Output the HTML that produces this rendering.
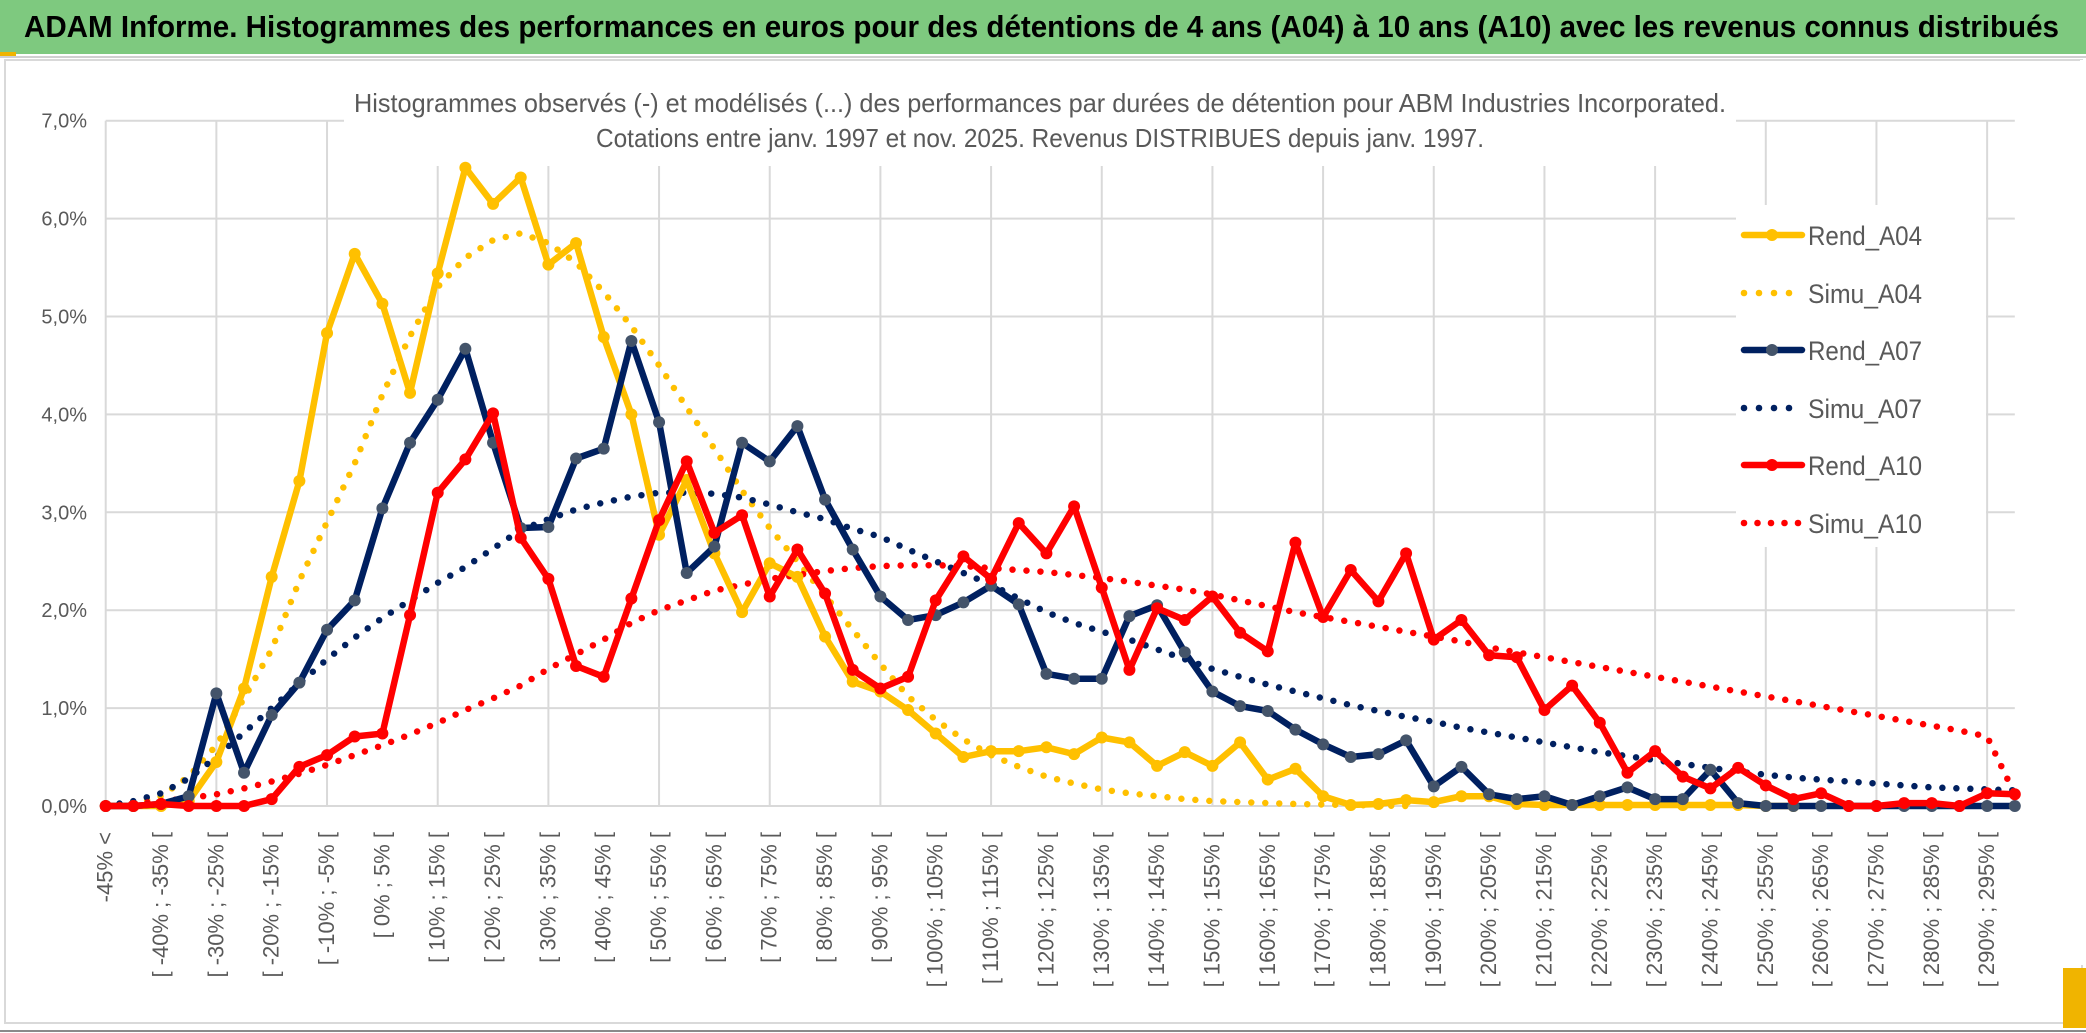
<!DOCTYPE html>
<html><head><meta charset="utf-8">
<style>
html,body{margin:0;padding:0;background:#fff;}
body{width:2086px;height:1033px;overflow:hidden;font-family:"Liberation Sans",sans-serif;}
svg{display:block;}
</style></head>
<body>
<svg id="chart" width="2086" height="1033" viewBox="0 0 2086 1033" xmlns="http://www.w3.org/2000/svg">
  <rect x="0" y="0" width="2086" height="1033" fill="#ffffff"/>
  <rect x="0" y="0" width="2086" height="54" fill="#7ec97f"/>
  <rect x="0" y="52" width="16" height="4" fill="#f0b400"/>
  <line x1="0" y1="57" x2="2086" y2="57" stroke="#d0d0d0" stroke-width="2"/>
  <text x="24" y="37" font-size="31" font-weight="bold" fill="#000" textLength="2035" lengthAdjust="spacingAndGlyphs">ADAM Informe. Histogrammes des performances en euros pour des détentions de 4 ans (A04) à 10 ans (A10) avec les revenus connus distribués</text>
  <rect x="5" y="60" width="2077" height="963" fill="none" stroke="#d9d9d9" stroke-width="2"/>
  <line x1="0" y1="1031" x2="2086" y2="1031" stroke="#8a8a8a" stroke-width="2"/>
  <rect x="2063" y="968" width="23" height="60" fill="#f0b400"/>
  <rect x="2080" y="60" width="6" height="905" fill="#fff"/>
  <g id="grid"></g>
  <rect x="344" y="80" width="1392" height="86" fill="#fff"/>
  <text x="1040" y="112" font-size="26" fill="#595959" text-anchor="middle" textLength="1372" lengthAdjust="spacingAndGlyphs">Histogrammes observés (-) et modélisés (...) des performances par durées de détention pour ABM Industries Incorporated.</text>
  <text x="1040" y="147" font-size="26" fill="#595959" text-anchor="middle" textLength="888" lengthAdjust="spacingAndGlyphs">Cotations entre janv. 1997 et nov. 2025. Revenus DISTRIBUES depuis janv. 1997.</text>
  <g id="yaxis"></g>
  <g id="xaxis"></g>
  <g id="series"></g>
  <g id="legend"></g>
</svg>
<script>
const categoryCount = 70;
const categoryLabels = ["-45% <"];
const yTicks = [0,1,2,3,4,5,6,7];
const yTickLabels = ["0,0%","1,0%","2,0%","3,0%","4,0%","5,0%","6,0%","7,0%"];
const rendA04 = [0,0,0,0.05,0.45,1.2,2.34,3.32,4.83,5.64,5.13,4.22,5.44,6.52,6.15,6.42,5.53,5.75,4.79,4.0,2.77,3.33,2.58,1.98,2.48,2.34,1.73,1.27,1.17,0.98,0.74,0.5,0.56,0.56,0.6,0.53,0.7,0.65,0.41,0.55,0.41,0.65,0.27,0.38,0.1,0.01,0.02,0.06,0.04,0.1,0.1,0.02,0.01,0.01,0.01,0.01,0.01,0.01,0.01,0.01,0.0,0.0];
const simuA04 = [0,0.02,0.1,0.3,0.62,1.1,1.6,2.3,2.9,3.5,4.2,4.8,5.3,5.6,5.78,5.85,5.75,5.55,5.25,4.9,4.5,4.07,3.65,3.22,2.84,2.5,2.15,1.8,1.45,1.12,0.88,0.68,0.52,0.4,0.3,0.23,0.17,0.13,0.1,0.07,0.05,0.04,0.03,0.02,0.015,0.01,0.005,0.0];
const rendA07 = [0,0,0.02,0.1,1.15,0.34,0.93,1.26,1.8,2.1,3.04,3.71,4.15,4.67,3.71,2.84,2.85,3.55,3.65,4.75,3.92,2.38,2.65,3.71,3.52,3.88,3.13,2.62,2.14,1.9,1.95,2.08,2.25,2.06,1.35,1.3,1.3,1.94,2.05,1.57,1.17,1.02,0.97,0.78,0.63,0.5,0.53,0.67,0.2,0.4,0.12,0.07,0.1,0.01,0.1,0.19,0.07,0.07,0.37,0.03,0.0,0.0,0.0,0.0,0.0,0.0,0.0,0.0,0.0,0.0];
const simuA07 = [0,0.05,0.13,0.28,0.5,0.75,1.0,1.25,1.5,1.72,1.92,2.1,2.28,2.44,2.63,2.82,2.93,3.03,3.1,3.16,3.2,3.2,3.19,3.15,3.08,3.0,2.93,2.83,2.75,2.62,2.5,2.38,2.26,2.12,1.98,1.87,1.78,1.7,1.6,1.5,1.4,1.32,1.24,1.17,1.1,1.03,0.97,0.91,0.86,0.8,0.75,0.7,0.65,0.6,0.55,0.51,0.47,0.43,0.39,0.35,0.32,0.29,0.27,0.25,0.23,0.21,0.19,0.18,0.17,0.16];
const rendA10 = [0,0,0.02,0,0,0,0.07,0.4,0.52,0.71,0.74,1.95,3.2,3.54,4.01,2.74,2.32,1.43,1.32,2.12,2.92,3.52,2.79,2.97,2.14,2.62,2.17,1.39,1.2,1.32,2.1,2.55,2.32,2.89,2.58,3.06,2.23,1.39,2.02,1.9,2.14,1.77,1.58,2.69,1.93,2.41,2.09,2.58,1.7,1.9,1.54,1.52,0.98,1.23,0.85,0.34,0.56,0.3,0.18,0.39,0.21,0.07,0.13,0.0,0.0,0.03,0.03,0.0,0.13,0.12];
const simuA10 = [0,0.02,0.05,0.08,0.12,0.18,0.25,0.33,0.42,0.52,0.62,0.73,0.85,0.98,1.1,1.23,1.4,1.55,1.7,1.87,2.0,2.1,2.2,2.26,2.32,2.36,2.4,2.43,2.45,2.46,2.46,2.45,2.43,2.41,2.39,2.36,2.33,2.29,2.25,2.21,2.16,2.1,2.04,1.98,1.93,1.88,1.83,1.78,1.73,1.68,1.62,1.57,1.52,1.47,1.42,1.37,1.32,1.27,1.22,1.17,1.12,1.07,1.02,0.97,0.92,0.87,0.82,0.77,0.71,0.12];
const legendNames = ["Rend_A04","Simu_A04","Rend_A07","Simu_A07","Rend_A10","Simu_A10"];

for (let i = 1; i < categoryCount; i++) {
  const lo = -50 + 5 * i;
  categoryLabels.push("[ " + lo + "% ; " + (lo + 5) + "% [");
}

const NS = "http://www.w3.org/2000/svg";
const X0 = 105.7, X1 = 2014.8, Y0 = 806, YTOP = 120.7, VMAX = 7;
function xScale(i){ return X0 + i * (X1 - X0) / (categoryCount - 1); }
function yScale(v){ return Y0 - v * (Y0 - YTOP) / VMAX; }
function mk(tag, attrs, parent){
  const e = document.createElementNS(NS, tag);
  for (const k in attrs) e.setAttribute(k, attrs[k]);
  parent.appendChild(e);
  return e;
}

const grid = document.getElementById('grid');
yTicks.forEach((t) => {
  const l = mk('line', {x1:X0, x2:X1, y1:yScale(t), y2:yScale(t), stroke:'#d9d9d9', 'stroke-width':2}, grid);
  
  
});
for (let i = 0; i < categoryCount; i += 4) {
  const l = mk('line', {x1:xScale(i), x2:xScale(i), y1:YTOP, y2:Y0, stroke:'#d9d9d9', 'stroke-width':2}, grid);
  
  
}

const yaxis = document.getElementById('yaxis');
yTicks.forEach((t, k) => {
  const tx = mk('text', {x:87, y:yScale(t) + 7, 'font-size':20, fill:'#595959', 'text-anchor':'end'}, yaxis);
  tx.textContent = yTickLabels[k];
  
  
});

const xaxis = document.getElementById('xaxis');
for (let i = 0; i < categoryCount; i += 2) {
  const x = xScale(i) + 7;
  const tx = mk('text', {x:x, y:832, 'font-size':22, fill:'#595959', 'text-anchor':'end', transform:'rotate(-90 ' + x + ' 832)'}, xaxis);
  tx.textContent = categoryLabels[i];
  
  
}

const series = document.getElementById('series');
function drawDotted(data, color, name){
  const pts = data.map((v, i) => xScale(i).toFixed(1) + ',' + yScale(v).toFixed(1)).join(' ');
  const p = mk('polyline', {points:pts, fill:'none', stroke:color, 'stroke-width':6.5, 'stroke-linecap':'round', 'stroke-dasharray':'0 14'}, series);
  
  
}
function drawSolid(data, color, markerColor, name){
  const pts = data.map((v, i) => xScale(i).toFixed(1) + ',' + yScale(v).toFixed(1)).join(' ');
  const p = mk('polyline', {points:pts, fill:'none', stroke:color, 'stroke-width':6.5, 'stroke-linejoin':'round'}, series);
  
  
  data.forEach((v, i) => {
    const c = mk('circle', {cx:xScale(i), cy:yScale(v), r:6, fill:markerColor}, series);
    
    
  });
}
drawDotted(simuA04, '#ffc000', 'simu-a04-line');
drawDotted(simuA07, '#002060', 'simu-a07-line');
drawDotted(simuA10, '#ff0000', 'simu-a10-line');
drawSolid(rendA04, '#ffc000', '#ffc000', 'rend-a04');
drawSolid(rendA07, '#002060', '#44546a', 'rend-a07');
drawSolid(rendA10, '#ff0000', '#ff0000', 'rend-a10');

const legend = document.getElementById('legend');
const bg = mk('rect', {x:1736, y:205, width:250, height:342, fill:'#fff'}, legend);


const legColors = ['#ffc000','#ffc000','#002060','#002060','#ff0000','#ff0000'];
const legMarkers = ['#ffc000',null,'#44546a',null,'#ff0000',null];
const legY = [235,293,350,408,465,523];
legendNames.forEach((n, k) => {
  const g = mk('g', {}, legend);
  
  
  const y = legY[k];
  if (legMarkers[k]) {
    mk('line', {x1:1744, x2:1802, y1:y, y2:y, stroke:legColors[k], 'stroke-width':6.5, 'stroke-linecap':'round'}, g);
    mk('circle', {cx:1772, cy:y, r:6, fill:legMarkers[k]}, g);
  } else {
    const dots = (k === 5) ? 5 : 4;
    for (let d = 0; d < dots; d++) mk('circle', {cx:1744 + d * (k === 5 ? 13.5 : 15), cy:y, r:3.3, fill:legColors[k]}, g);
  }
  const t = mk('text', {x:1808, y:y + 10, 'font-size':27, fill:'#595959', textLength:114, lengthAdjust:'spacingAndGlyphs'}, g);
  t.textContent = n;
});
</script>
</body></html>
